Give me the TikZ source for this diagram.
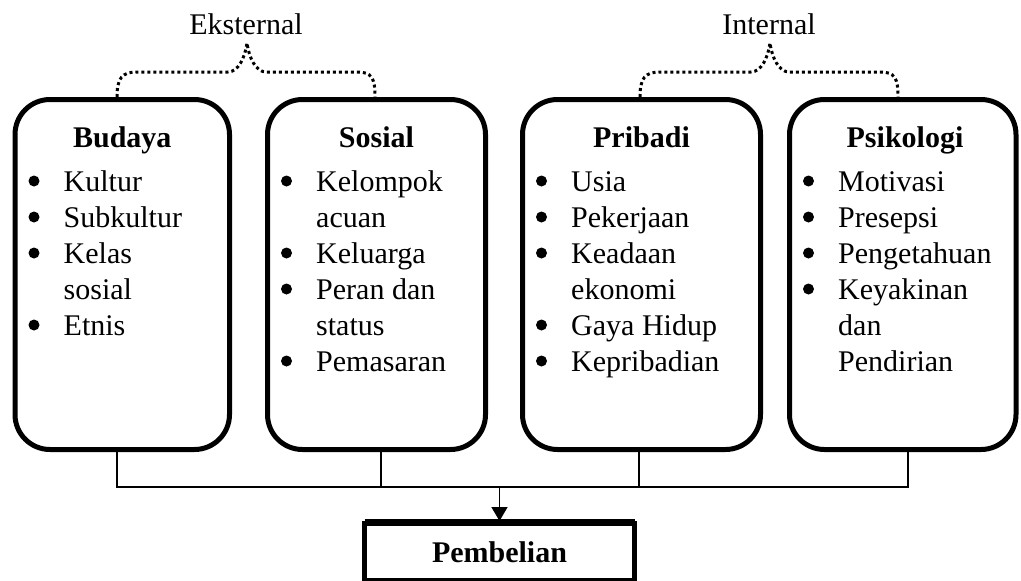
\documentclass[tikz,border=0pt]{standalone}
\usepackage{fontspec}
\setmainfont{Liberation Serif}
\usetikzlibrary{arrows.meta,calc}
\newcommand{\bitem}[4]{%
  \node[bul] (#1b) at (#2+19,#3-10) {};
  \node[itm] (#1) at (#2+48.5,#3) {#4};}
\newcommand{\citem}[4]{%
  \node[itm] (#1) at (#2+48.5,#3) {#4};}
\begin{document}
\begin{tikzpicture}[x=1pt,y=-1pt,
  font=\fontsize{30}{36}\selectfont,
  catbox/.style={draw, line width=5pt, rounded corners=35pt, minimum height=350pt, inner sep=0pt},
  head/.style={font=\fontsize{30}{36}\selectfont\bfseries, anchor=base, inner sep=0pt},
  itm/.style={anchor=base west, inner sep=0pt},
  bul/.style={circle, fill, inner sep=0pt, minimum size=11pt},
  lbl/.style={anchor=base, inner sep=0pt},
  link/.style={line width=1.6pt},
  brace/.style={line width=3pt, dash pattern=on 3pt off 3pt}
]
\useasboundingbox (0,0) rectangle (1021,581);

% category boxes
\node[catbox, minimum width=214.5pt] (b1) at (122.25,274.5) {};
\node[catbox, minimum width=218pt]   (b2) at (376.5,274.5) {};
\node[catbox, minimum width=238pt]   (b3) at (641.5,274.5) {};
\node[catbox, minimum width=226.5pt] (b4) at (902.75,274.5) {};

% headings
\node[head] (h1) at (122.25,147) {Budaya};
\node[head] (h2) at (376.5,147) {Sosial};
\node[head] (h3) at (641.5,147) {Pribadi};
\node[head] (h4) at (905,147) {Psikologi};

% items box 1
\bitem{a1}{15}{191}{Kultur}
\bitem{a2}{15}{227}{Subkultur}
\bitem{a3}{15}{263}{Kelas}
\citem{a4}{15}{299}{sosial}
\bitem{a5}{15}{335}{Etnis}
% items box 2
\bitem{s1}{267.5}{191}{Kelompok}
\citem{s2}{267.5}{227}{acuan}
\bitem{s3}{267.5}{263}{Keluarga}
\bitem{s4}{267.5}{299}{Peran dan}
\citem{s5}{267.5}{335}{status}
\bitem{s6}{267.5}{371}{Pemasaran}
% items box 3
\bitem{p1}{522.5}{191}{Usia}
\bitem{p2}{522.5}{227}{Pekerjaan}
\bitem{p3}{522.5}{263}{Keadaan}
\citem{p4}{522.5}{299}{ekonomi}
\bitem{p5}{522.5}{335}{Gaya Hidup}
\bitem{p6}{522.5}{371}{Kepribadian}
% items box 4
\bitem{k1}{789.5}{191}{Motivasi}
\bitem{k2}{789.5}{227}{Presepsi}
\bitem{k3}{789.5}{263}{Pengetahuan}
\bitem{k4}{789.5}{299}{Keyakinan}
\citem{k5}{789.5}{335}{dan}
\citem{k6}{789.5}{371}{Pendirian}

% group labels
\node[lbl] (eks) at (246,34) {Eksternal};
\node[lbl] (int) at (769,34) {Internal};
\coordinate (eapex) at (247,43);
\coordinate (iapex) at (770,43);

% dotted braces
\draw[brace] ([xshift=-5.25pt]b1.north) .. controls (117,78) and (122,72) .. (137,72)
  -- (228,72) .. controls (238,72) and (245,58) .. (eapex)
  .. controls (249,58) and (256,72) .. (266,72) -- (357,72)
  .. controls (372,72) and (375,78) .. ([xshift=-1.5pt]b2.north);
\draw[brace] ([xshift=-1.5pt]b3.north) .. controls (640,78) and (645,72) .. (660,72)
  -- (751,72) .. controls (761,72) and (768,58) .. (iapex)
  .. controls (772,58) and (779,72) .. (789,72) -- (880,72)
  .. controls (895,72) and (898,78) .. ([xshift=-4.75pt]b4.north);

% result box
\node[draw, line width=5pt, minimum width=270pt, minimum height=57pt, inner sep=0pt,
      font=\fontsize{30}{36}\selectfont\bfseries] (pb) at (499.5,552) {Pembelian};
\draw[line width=7pt] ([xshift=2.5pt,yshift=-1pt]pb.north west) -- ([xshift=-2.5pt,yshift=-1pt]pb.north east);

% connectors
\coordinate (j) at (pb.north |- 0,487);
\draw[link] ([xshift=-5.25pt]b1.south) -- ++(0,35) -| ([xshift=5.25pt]b4.south);
\draw[link] ([xshift=4.5pt]b2.south) -- ++(0,35);
\draw[link] ([xshift=-2.5pt]b3.south) -- ++(0,35);
\draw[link, -{Triangle[length=14pt,width=16pt]}] (j) -- (pb.north);
\end{tikzpicture}
\end{document}
